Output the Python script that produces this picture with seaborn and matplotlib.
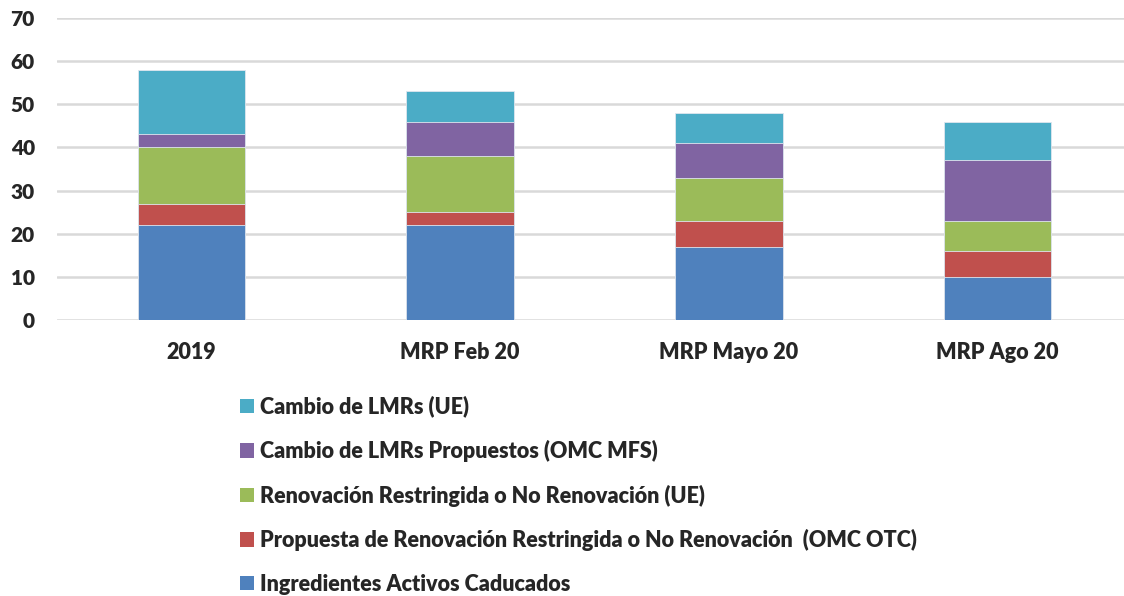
import numpy as np
import pandas as pd
import matplotlib
matplotlib.use("Agg")
import matplotlib.pyplot as plt
from matplotlib.patches import Patch
import seaborn as sns

# --- Data ---
periods = ["2019", "MRP Feb 20", "MRP Mayo 20", "MRP Ago 20"]
series_names = [
    "Ingredientes Activos Caducados",
    "Propuesta de Renovación Restringida o No Renovación  (OMC OTC)",
    "Renovación Restringida o No Renovación (UE)",
    "Cambio de LMRs Propuestos (OMC MFS)",
    "Cambio de LMRs (UE)",
]
caducados = [22, 22, 17, 10]
prop_renovacion = [5, 3, 6, 6]
renovacion_ue = [13, 13, 10, 7]
lmr_propuestos = [3, 8, 8, 14]
lmr_ue = [15, 7, 7, 9]
colors = ["#4F81BD", "#C0504D", "#9BBB59", "#8064A2", "#4BACC6"]

sns.set_theme(style="white")
plt.rcParams["font.family"] = ["Lato", "DejaVu Sans"]
plt.rcParams["font.weight"] = "heavy"

df = pd.DataFrame({
    "periodo": periods,
    series_names[0]: caducados,
    series_names[1]: prop_renovacion,
    series_names[2]: renovacion_ue,
    series_names[3]: lmr_propuestos,
    series_names[4]: lmr_ue,
})
cum = df[series_names].cumsum(axis=1)

fig = plt.figure(figsize=(11.24, 5.96), dpi=100)
ax = fig.add_axes([57 / 1124, 1 - 320 / 596, 1 - 57 / 1124, 302 / 596])

# stacked bars: draw cumulative totals from top series down
for name, col in reversed(list(zip(series_names, colors))):
    sns.barplot(x=df["periodo"], y=cum[name], color=col, width=0.4,
                saturation=1, edgecolor="#dfe6ef", linewidth=0.6, ax=ax, zorder=3)

ax.set_ylim(0, 70)
ax.set_xlim(-0.5, 3.47)
ax.set_yticks(range(0, 71, 10))
ax.yaxis.grid(True, color="#d9d9d9", linewidth=1.8, zorder=0)
ax.set_axisbelow(True)
for s in ax.spines.values():
    s.set_visible(False)
ax.set_xlabel("")
ax.set_ylabel("")
ax.tick_params(axis="y", length=0, pad=16, labelsize=15)
ax.tick_params(axis="x", length=0, pad=16, labelsize=15.5)
for lbl in ax.get_xticklabels() + ax.get_yticklabels():
    lbl.set_fontweight("heavy")

handles = [Patch(facecolor=c, edgecolor="none") for c in colors][::-1]
labels = series_names[::-1]
leg = fig.legend(handles, labels, loc="upper left", bbox_to_anchor=(231 / 1124, 1 - 387 / 596),
                 frameon=False, prop={"weight": "heavy", "size": 15.5},
                 handlelength=0.65, handleheight=0.65, handletextpad=0.3,
                 labelspacing=1.045, borderaxespad=0)

fig.savefig("out.png", dpi=100)
